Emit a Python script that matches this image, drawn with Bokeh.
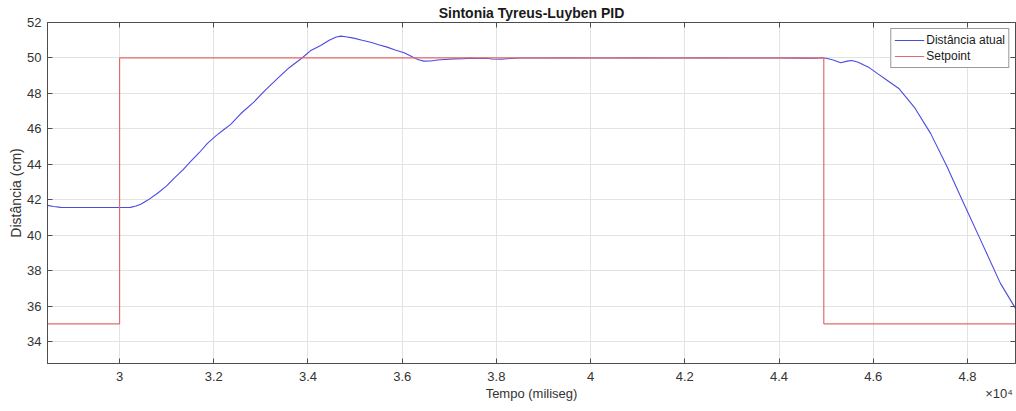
from bokeh.plotting import figure
from bokeh.models import Range1d, FixedTicker, LinearAxis, CustomJSTickFormatter
from bokeh.embed import file_html
from bokeh.resources import INLINE

# Measured signal (time in ms, distance in cm)
time_ms = [28470, 28600, 28750, 29000, 29500, 30000, 30230, 30350, 30450, 30600,
           30800, 31000, 31150, 31350, 31500, 31700, 31860, 32050, 32210, 32360,
           32570, 32850, 33100, 33350, 33600, 33880, 34050, 34270, 34450, 34600,
           34700, 34800, 34970, 35150, 35330, 35500, 35680, 35850, 36040, 36150,
           36250, 36350, 36460, 36600, 36750, 36900, 37100, 37300, 37450, 37600,
           37800, 37900, 38100, 38300, 38500, 39000, 39500, 40000, 40500, 41000,
           41500, 42000, 42500, 43000, 43500, 44000, 44500, 44800, 44900, 45000,
           45150, 45310, 45450, 45550, 45680, 45800, 45900, 46100, 46300, 46550,
           46870, 47220, 47570, 47890, 48280, 48700, 49020]
distance_cm = [41.68, 41.62, 41.57, 41.56, 41.56, 41.56, 41.57, 41.65, 41.75, 41.98,
               42.35, 42.78, 43.19, 43.70, 44.13, 44.68, 45.17, 45.62, 45.95, 46.25,
               46.85, 47.51, 48.20, 48.83, 49.45, 50.01, 50.40, 50.70, 51.00, 51.18,
               51.23, 51.20, 51.12, 51.00, 50.89, 50.75, 50.61, 50.45, 50.29, 50.15,
               50.01, 49.90, 49.82, 49.83, 49.88, 49.91, 49.95, 49.96, 49.99, 49.97,
               49.98, 49.94, 49.93, 49.97, 50.00, 50.00, 50.01, 50.00, 50.00, 50.01,
               50.00, 50.00, 50.01, 50.00, 50.00, 50.00, 49.99, 49.98, 50.01, 49.98,
               49.88, 49.73, 49.82, 49.86, 49.76, 49.60, 49.48, 49.10, 48.73, 48.26,
               47.23, 45.73, 43.85, 41.97, 39.72, 37.28, 35.87]

# Setpoint
sp_time = [28470, 30000, 30000, 44950, 44950, 49020]
sp_value = [35, 35, 50, 50, 35, 35]

x_ticks = [30000, 32000, 34000, 36000, 38000, 40000, 42000, 44000, 46000, 48000]
y_ticks = [34, 36, 38, 40, 42, 44, 46, 48, 50, 52]
x_range_ms = [28470, 49020]
y_range_cm = [32.76, 52]
x_title = "Tempo (miliseg)"
x_exponent = "×10⁴"

FONT = "Liberation Sans"
AX = "#4d4d4d"
TXT = "#333333"

p = figure(width=1016, height=411, output_backend="svg", toolbar_location=None,
           x_range=Range1d(*x_range_ms), y_range=Range1d(*y_range_cm),
           min_border_left=47, min_border_right=1, min_border_top=22, min_border_bottom=48,
           background_fill_color="white", border_fill_color="white")

p.title.text = "Sintonia Tyreus-Luyben PID"
p.title.text_font = FONT
p.title.text_font_size = "14px"
p.title.text_font_style = "bold"
p.title.text_color = "#1a1a1a"
p.title.align = "center"
p.title.standoff = 4

p.outline_line_color = AX
p.outline_line_width = 1

xt = FixedTicker(ticks=x_ticks)
yt = FixedTicker(ticks=y_ticks)

xa = p.xaxis[0]
xa.ticker = xt
xa.formatter = CustomJSTickFormatter(code="return (tick/10000).toString();")
ya = p.yaxis[0]
ya.ticker = yt
ya.axis_label = "Distância (cm)"

for a in (xa, ya):
    a.axis_line_color = AX
    a.major_tick_line_color = AX
    a.major_tick_in = 5
    a.major_tick_out = 0
    a.minor_tick_line_color = None
    a.major_label_text_font = FONT
    a.major_label_text_font_size = "13px"
    a.major_label_text_color = TXT
ya.axis_label_text_font = FONT
ya.axis_label_text_font_size = "14px"
ya.axis_label_text_font_style = "normal"
ya.axis_label_text_color = TXT
xa.major_label_standoff = 8
ya.major_label_standoff = 6
ya.axis_label_standoff = 0

# second row below the x axis: axis title (centred) and the x10^4 exponent (right)
x_mid = (x_range_ms[0] + x_range_ms[1]) / 2
x_exp_pos = x_range_ms[1] - 350
row2 = LinearAxis(ticker=FixedTicker(ticks=[x_mid, x_exp_pos]),
                  formatter=CustomJSTickFormatter(
                      args=dict(mid=x_mid, t=x_title, e=x_exponent),
                      code="return Math.abs(tick - mid) < 1 ? t : e;"),
                  axis_line_color=None, major_tick_line_color=None, minor_tick_line_color=None,
                  major_tick_in=0, major_tick_out=0, major_label_standoff=2,
                  major_label_text_font=FONT, major_label_text_font_size="13px",
                  major_label_text_color=TXT)
p.add_layout(row2, "below")

# box ticks on top and right (no labels)
for loc, tk in (("above", xt), ("right", yt)):
    ax = LinearAxis(ticker=tk, formatter=CustomJSTickFormatter(code="return '';"),
                    major_label_text_font_size="1px", major_label_standoff=0,
                    axis_line_color=AX, major_tick_line_color=AX, major_tick_in=5,
                    major_tick_out=0, minor_tick_line_color=None)
    p.add_layout(ax, loc)

p.xgrid.ticker = xt
p.ygrid.ticker = yt
p.grid.grid_line_color = "#e3e3e3"
p.grid.grid_line_width = 1

p.line(time_ms, distance_cm, line_color="#4b4be0", line_width=1.1, legend_label="Distância atual")
p.line(sp_time, sp_value, line_color="#e36a6a", line_width=1.2, legend_label="Setpoint")

lg = p.legend[0]
lg.location = "top_right"
lg.margin = 6
lg.padding = 3
lg.spacing = 0
lg.glyph_width = 30
lg.glyph_height = 16
lg.label_height = 16
lg.label_standoff = 2
lg.label_text_font = FONT
lg.label_text_font_size = "12px"
lg.label_text_color = "#1a1a1a"
lg.border_line_color = "#333333"
lg.border_line_width = 1
lg.background_fill_color = "white"
lg.background_fill_alpha = 1

open("out.html", "w").write(file_html(p, INLINE))
